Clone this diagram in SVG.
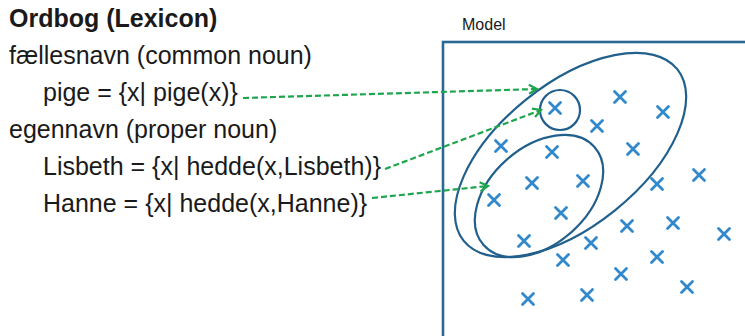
<svg xmlns="http://www.w3.org/2000/svg" xmlns:xlink="http://www.w3.org/1999/xlink" width="745" height="336" viewBox="0 0 745 336">
  <style>
    .t { font-family: "Liberation Sans", Arial, sans-serif; font-size: 25px; fill: #1a1a1a; }
    .b { font-weight: bold; }
    .m { font-family: "Liberation Sans", Arial, sans-serif; font-size: 16px; fill: #1a1a1a; }
    .box { fill: none; stroke: #2b6896; stroke-width: 2.6; }
    .set { fill: none; stroke: #21608c; stroke-width: 2.2; }
    .el { fill: none; stroke: #3188cb; stroke-width: 2.8; stroke-linecap: round; }
    .con { fill: none; stroke: #1fa54d; stroke-width: 2.2; stroke-dasharray: 6 3; marker-end: url(#arr); }
  </style>
  <defs>
    <marker id="arr" markerUnits="userSpaceOnUse" markerWidth="12" markerHeight="12" refX="10" refY="6" orient="auto" overflow="visible">
      <path d="M2,1.5 L10,6 L2,10.5" fill="none" stroke="#1fa54d" stroke-width="2.2" stroke-dasharray="none" stroke-linejoin="miter"/>
    </marker>
    <path id="x" d="M-5.5,-5.5 L5.5,5.5 M5.5,-5.5 L-5.5,5.5"/>
  </defs>
  <rect width="745" height="336" fill="#ffffff"/>

  <g id="lexicon">
    <text class="t b" x="9" y="27">Ordbog (Lexicon)</text>
    <text class="t" x="9" y="64">fællesnavn  (common noun)</text>
    <text id="pige" class="t" x="43" y="101">pige = {x| pige(x)}</text>
    <text class="t" x="9" y="138">egennavn (proper noun)</text>
    <text id="lisbeth" class="t" x="43" y="175">Lisbeth = {x| hedde(x,Lisbeth)}</text>
    <text id="hanne" class="t" x="43" y="212">Hanne = {x| hedde(x,Hanne)}</text>
  </g>

  <g id="model">
    <text class="m" x="462" y="30">Model</text>
    <rect class="box" x="443" y="42" width="400" height="400"/>
  </g>

  <g id="set-pige">
    <ellipse class="set" cx="570.5" cy="155" rx="137" ry="71" transform="rotate(-38.8 570.5 155)"/>
  </g>
  <g id="set-hanne">
    <ellipse class="set" cx="539" cy="196" rx="74" ry="48.6" transform="rotate(-41.5 539 196)"/>
  </g>
  <g id="set-lisbeth">
    <circle class="set" cx="560" cy="110" r="20"/>
  </g>

  <g id="elements" class="el">
    <use xlink:href="#x" x="555" y="108"/>
    <use xlink:href="#x" x="620" y="97"/>
    <use xlink:href="#x" x="663" y="112"/>
    <use xlink:href="#x" x="597" y="126"/>
    <use xlink:href="#x" x="501" y="146"/>
    <use xlink:href="#x" x="552" y="152"/>
    <use xlink:href="#x" x="633" y="149"/>
    <use xlink:href="#x" x="532" y="183"/>
    <use xlink:href="#x" x="583" y="181"/>
    <use xlink:href="#x" x="657" y="184"/>
    <use xlink:href="#x" x="699" y="175"/>
    <use xlink:href="#x" x="494" y="200"/>
    <use xlink:href="#x" x="561" y="213"/>
    <use xlink:href="#x" x="627" y="226"/>
    <use xlink:href="#x" x="673" y="223"/>
    <use xlink:href="#x" x="724" y="234"/>
    <use xlink:href="#x" x="524" y="241"/>
    <use xlink:href="#x" x="591" y="243"/>
    <use xlink:href="#x" x="563" y="260"/>
    <use xlink:href="#x" x="657" y="257"/>
    <use xlink:href="#x" x="621" y="274"/>
    <use xlink:href="#x" x="687" y="287"/>
    <use xlink:href="#x" x="528" y="299"/>
    <use xlink:href="#x" x="587" y="295"/>
  </g>

  <g id="connectors">
    <path class="con" d="M243,98 L537,89"/>
    <path class="con" d="M385,169 L541,110"/>
    <path class="con" d="M372,198 L488,186"/>
  </g>
</svg>
